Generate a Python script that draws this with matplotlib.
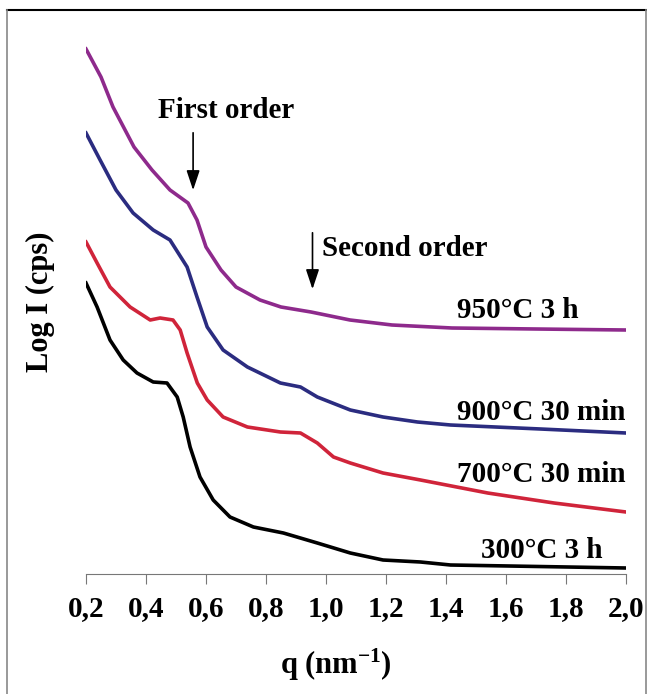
import matplotlib
matplotlib.use('Agg')
import matplotlib.pyplot as plt
from matplotlib.lines import Line2D

plt.rcParams['font.family'] = 'Liberation Serif'
plt.rcParams['font.weight'] = 'bold'
plt.rcParams['mathtext.fontset'] = 'custom'
plt.rcParams['mathtext.rm'] = 'Liberation Serif:bold'
plt.rcParams['mathtext.bf'] = 'Liberation Serif:bold'
plt.rcParams['mathtext.default'] = 'bf'

# scattering vector q (nm^-1) and log intensity (arbitrary offset units)
q_950 = [0.20, 0.25, 0.29, 0.36, 0.42, 0.48, 0.54, 0.57, 0.60, 0.65, 0.70, 0.78, 0.85, 0.95, 1.08, 1.22, 1.42, 1.70, 2.00]
I_950 = [5.25, 4.97, 4.67, 4.27, 4.04, 3.84, 3.71, 3.54, 3.27, 3.04, 2.87, 2.74, 2.67, 2.62, 2.54, 2.49, 2.46, 2.45, 2.44]

q_900 = [0.20, 0.247, 0.30, 0.357, 0.424, 0.48, 0.537, 0.57, 0.604, 0.657, 0.738, 0.848, 0.915, 0.971, 1.081, 1.19, 1.305, 1.415, 1.715, 2.00]
I_900 = [4.41, 4.14, 3.84, 3.61, 3.44, 3.34, 3.07, 2.77, 2.47, 2.24, 2.07, 1.91, 1.87, 1.77, 1.64, 1.57, 1.52, 1.49, 1.45, 1.41]

q_700 = [0.20, 0.237, 0.28, 0.347, 0.414, 0.447, 0.49, 0.514, 0.537, 0.571, 0.604, 0.657, 0.738, 0.848, 0.915, 0.971, 1.025, 1.081, 1.19, 1.315, 1.539, 1.76, 2.00]
I_700 = [3.32, 3.11, 2.87, 2.67, 2.54, 2.56, 2.54, 2.44, 2.21, 1.91, 1.74, 1.57, 1.47, 1.42, 1.41, 1.31, 1.17, 1.11, 1.01, 0.94, 0.81, 0.71, 0.62]

q_300 = [0.20, 0.237, 0.28, 0.324, 0.37, 0.424, 0.47, 0.504, 0.524, 0.547, 0.58, 0.624, 0.68, 0.758, 0.858, 0.971, 1.081, 1.19, 1.315, 1.415, 2.00]
I_300 = [2.91, 2.67, 2.34, 2.14, 2.01, 1.92, 1.91, 1.77, 1.57, 1.27, 0.97, 0.74, 0.57, 0.47, 0.41, 0.31, 0.21, 0.14, 0.12, 0.09, 0.06]

labels = ['950°C 3 h', '900°C 30 min', '700°C 30 min', '300°C 3 h']
xticks = [0.2, 0.4, 0.6, 0.8, 1.0, 1.2, 1.4, 1.6, 1.8, 2.0]

fig = plt.figure(figsize=(6.47, 6.94), dpi=100)
ax = fig.add_axes([86/647, 1-574/694, 540/647, 564/694])

ax.plot(q_950, I_950, color='#8e2a8c', lw=2.6)
ax.plot(q_900, I_900, color='#2b2c80', lw=2.6)
ax.plot(q_700, I_700, color='#d0243a', lw=2.6)
ax.plot(q_300, I_300, color='black', lw=2.6)

ax.set_xlim(0.2, 2.0)
ax.set_ylim(0, 5.64)
ax.set_xticks(xticks)
ax.set_xticklabels(['%.1f' % t for t in xticks])
ax.set_xticklabels([('%.1f' % t).replace('.', ',') for t in xticks])
ax.set_yticks([])
for s in ['top', 'right', 'left']:
    ax.spines[s].set_visible(False)
ax.spines['bottom'].set_color('#777777')
ax.tick_params(axis='x', direction='out', length=7, color='#777777', pad=8, labelsize=21)

fs = 21
ax.text(1.64, 2.64, labels[0], fontsize=fs, ha='center', va='center')
ax.text(2.0, 1.62, labels[1], fontsize=fs, ha='right', va='center')
ax.text(2.0, 0.99, labels[2], fontsize=fs, ha='right', va='center')
ax.text(1.72, 0.23, labels[3], fontsize=fs, ha='center', va='center')

ax.text(0.667, 4.64, 'First order', fontsize=fs, ha='center', va='center')
ax.annotate('', xy=(0.557, 3.81), xytext=(0.557, 4.44),
            arrowprops=dict(arrowstyle='-|>,head_length=0.6,head_width=0.2', color='black', lw=1.2, mutation_scale=20))
ax.text(0.988, 3.26, 'Second order', fontsize=fs, ha='left', va='center')
ax.annotate('', xy=(0.955, 2.82), xytext=(0.955, 3.44),
            arrowprops=dict(arrowstyle='-|>,head_length=0.6,head_width=0.2', color='black', lw=1.2, mutation_scale=20))

fig.text(40/647, 1-302/694, 'Log I (cps)', rotation=90, fontsize=22, ha='center', va='center')
fig.text(336/647, 1-665/694, r'q (nm$^{-1}$)', fontsize=22, ha='center', va='center')

# frame around the figure
fig.add_artist(Line2D([7/647, 646/647], [1-10/694, 1-10/694], color='black', lw=1.5))
fig.add_artist(Line2D([7/647, 7/647], [0, 1-10/694], color='#888888', lw=1.2))
fig.add_artist(Line2D([646/647, 646/647], [0, 1-10/694], color='#888888', lw=1.2))

fig.savefig('out.png', dpi=100)
